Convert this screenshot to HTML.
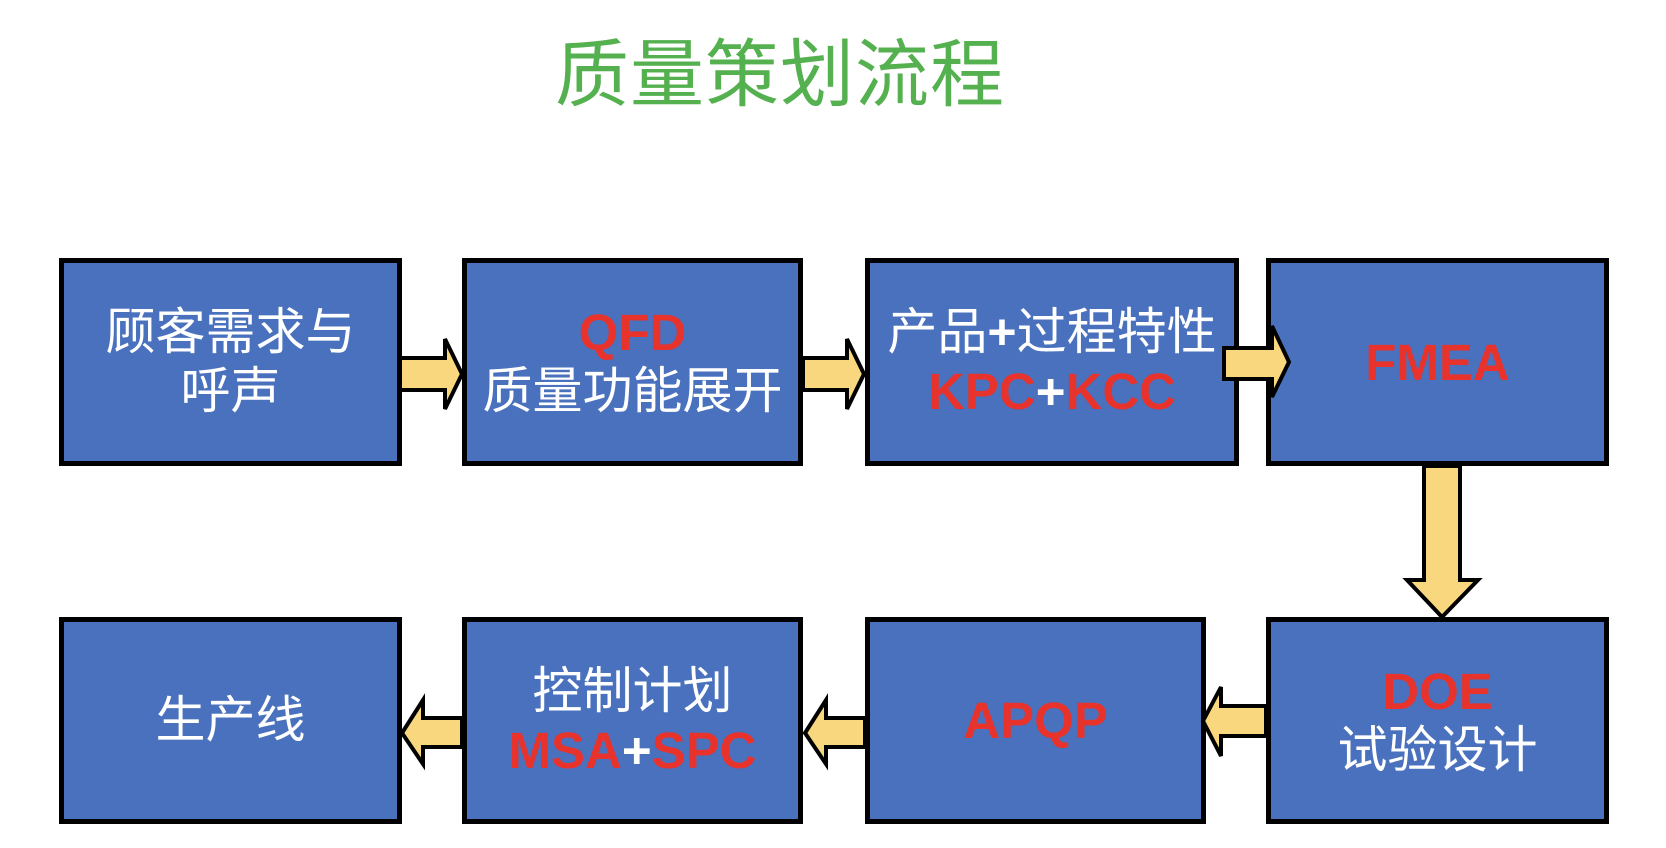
<!DOCTYPE html>
<html><head><meta charset="utf-8"><style>
body{margin:0;width:1666px;height:848px;background:#fff;position:relative;overflow:hidden;font-family:"Liberation Sans","Noto Sans CJK SC",sans-serif}
.t{position:absolute;left:555px;top:15px;font-size:74px;color:#55b04f;font-family:"Liberation Sans","Noto Sans CJK SC",sans-serif;letter-spacing:1px;white-space:nowrap}
.b{position:absolute;box-sizing:border-box;border:5px solid #000;background:#4a71bd;display:flex;flex-direction:column;justify-content:center;align-items:center;text-align:center;color:#fff;font-size:50px;line-height:59px;white-space:nowrap}
.r{color:#e8322c;font-weight:bold;font-family:"Liberation Sans",sans-serif;font-size:51px}
.w{color:#fff;font-weight:bold}
svg{position:absolute;left:0;top:0}
</style></head><body>
<div class="t">质量策划流程</div>
<div class="b" style="left:59px;top:258px;width:343px;height:208px">顾客需求与<br>呼声</div>
<div class="b" style="left:462px;top:258px;width:341px;height:208px"><span class="r">QFD</span>质量功能展开</div>
<div class="b" style="left:865px;top:258px;width:374px;height:208px"><span>产品<b class="w">+</b>过程特性</span><span class="r">KPC<span class="w">+</span>KCC</span></div>
<div class="b" style="left:1266px;top:258px;width:343px;height:208px"><span class="r">FMEA</span></div>
<div class="b" style="left:59px;top:617px;width:343px;height:207px">生产线</div>
<div class="b" style="left:462px;top:617px;width:341px;height:207px"><span>控制计划</span><span class="r">MSA<span class="w">+</span>SPC</span></div>
<div class="b" style="left:865px;top:617px;width:341px;height:207px"><span class="r">APQP</span></div>
<div class="b" style="left:1266px;top:617px;width:343px;height:207px"><span class="r">DOE</span>试验设计</div>
<svg width="1666" height="848" viewBox="0 0 1666 848">
<g fill="#f9d77e" stroke="#000" stroke-width="4" stroke-linejoin="miter">
<polygon points="400,358 445,358 445,339 462,374 445,409 445,390 400,390"/>
<polygon points="803,358 847,358 847,339 864,374 847,409 847,390 803,390"/>
<polygon points="1224,348 1272,348 1272,326 1289,362 1272,397 1272,379 1224,379"/>
<polygon points="1424,466 1460,466 1460,580 1478,580 1442,617 1407,580 1424,580"/>
<polygon points="1266,706 1221,706 1221,687 1203,721 1221,756 1221,736 1266,736"/>
<polygon points="865,718 826,718 826,700 805,733 826,764 826,747 865,747"/>
<polygon points="462,718 423,718 423,700 402,733 423,764 423,747 462,747"/>
</g></svg>
</body></html>
